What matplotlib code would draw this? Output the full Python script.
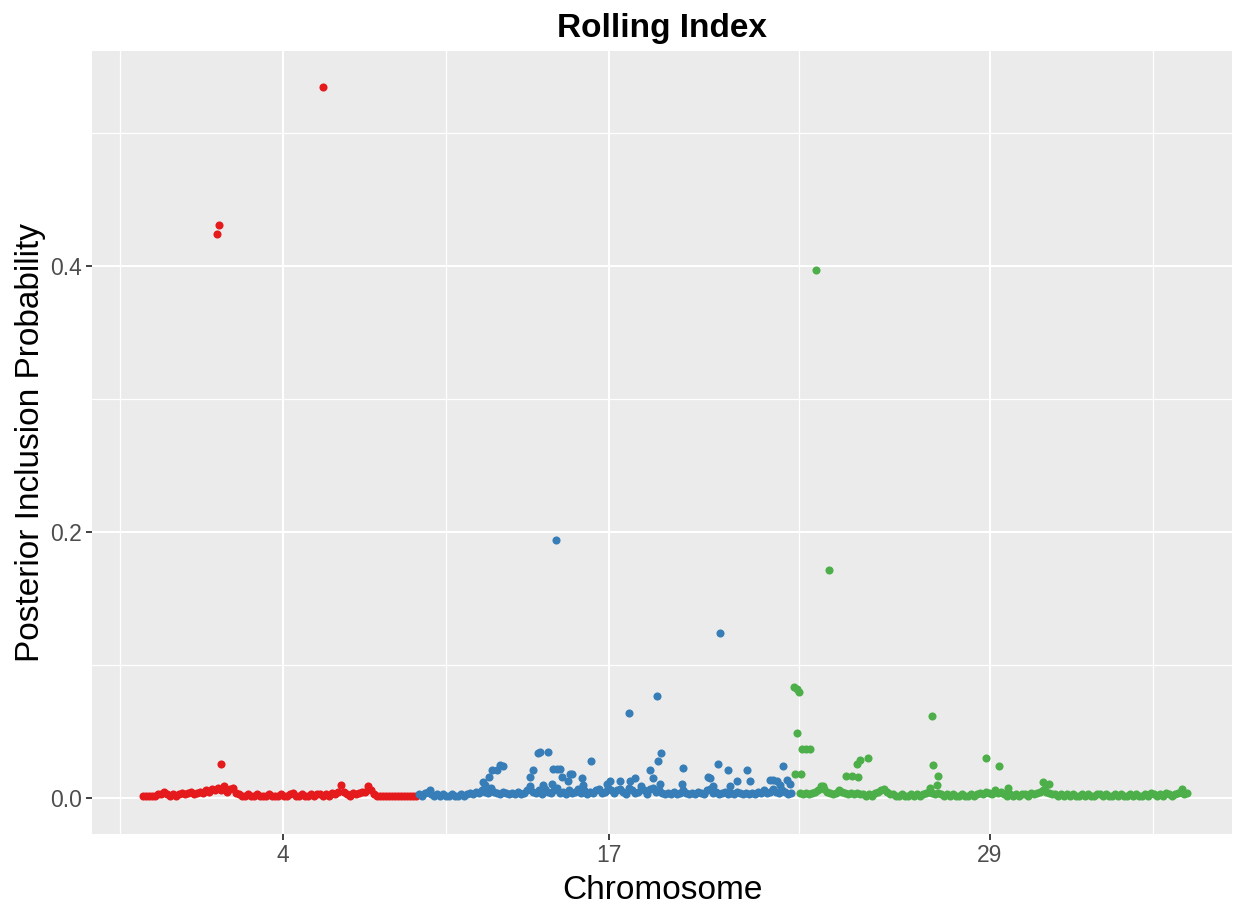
import matplotlib
matplotlib.use("Agg")
import matplotlib.pyplot as plt
import numpy as np

plt.rcParams['font.family'] = ['Liberation Sans', 'DejaVu Sans']

# ---------------- data ----------------
title = "Rolling Index"
x_label = "Chromosome"
y_label = "Posterior Inclusion Probability"

chrom_tick_pos = [46.7, 155.3, 282.3]
chrom_tick_labels = ["4", "17", "29"]
y_ticks = [0.0, 0.2, 0.4]
y_tick_labels = ["0.0", "0.2", "0.4"]

# regularly spaced windows (baseline), start index per group
red_start = 0
red_pip = [
    0.002, 0.002, 0.002, 0.002, 0.002, 0.003, 0.003, 0.005, 0.003, 0.002,
    0.003, 0.002, 0.003, 0.004, 0.003, 0.004, 0.005, 0.003, 0.004, 0.005,
    0.004, 0.006, 0.005, 0.007, 0.006, 0.008, 0.006, 0.009, 0.005, 0.007,
    0.008, 0.004, 0.003, 0.002, 0.002, 0.003, 0.002, 0.002, 0.003, 0.002,
    0.002, 0.002, 0.003, 0.002, 0.002, 0.002, 0.003, 0.002, 0.002, 0.003,
    0.004, 0.002, 0.002, 0.003, 0.002, 0.002, 0.003, 0.002, 0.003, 0.003,
    0.002, 0.003, 0.002, 0.004, 0.003, 0.005, 0.010, 0.005, 0.003, 0.002,
    0.004, 0.003, 0.004, 0.005, 0.005, 0.009, 0.006, 0.003, 0.002, 0.002,
    0.002, 0.002, 0.002, 0.002, 0.002, 0.002, 0.002, 0.002, 0.002, 0.002,
    0.002, 0.002,
]
red_peak_pos = [24.7, 25.3, 26.0, 60.0]
red_peak_pip = [0.424, 0.431, 0.0255, 0.535]

blue_start = 92
blue_pip = [
    0.003, 0.002, 0.004, 0.005, 0.003, 0.002, 0.003, 0.002, 0.003, 0.002,
    0.002, 0.003, 0.002, 0.002, 0.003, 0.002, 0.003, 0.004, 0.003, 0.005,
    0.004, 0.006, 0.005, 0.004, 0.008, 0.005, 0.004, 0.003, 0.005, 0.004,
    0.003, 0.004, 0.003, 0.005, 0.003, 0.004, 0.006, 0.007, 0.005, 0.004,
    0.006, 0.003, 0.007, 0.005, 0.004, 0.006, 0.008, 0.004, 0.005, 0.003,
    0.006, 0.004, 0.005, 0.007, 0.004, 0.006, 0.003, 0.005, 0.004, 0.006,
    0.007, 0.004, 0.005, 0.008, 0.006, 0.004, 0.006, 0.007, 0.005, 0.003,
    0.008, 0.006, 0.004, 0.005, 0.009, 0.006, 0.003, 0.007, 0.008, 0.005,
    0.006, 0.004, 0.003, 0.004, 0.003, 0.005, 0.003, 0.004, 0.006, 0.004,
    0.003, 0.004, 0.003, 0.005, 0.004, 0.003, 0.006, 0.007, 0.004, 0.005,
    0.003, 0.004, 0.005, 0.003, 0.004, 0.003, 0.005, 0.004, 0.003, 0.004,
    0.003, 0.004, 0.003, 0.005, 0.004, 0.006, 0.004, 0.005, 0.007, 0.005,
    0.004, 0.006, 0.005, 0.003, 0.004,
]
blue_peak_pos = [
    95.7, 113.3, 114.0, 115.3, 116.3, 118.0, 119.0, 120.0, 129.0, 129.0,
    130.0, 131.7, 132.3, 133.3, 135.0, 136.3, 136.7, 137.7, 138.0, 139.0,
    139.7, 141.7, 142.3, 143.0, 146.3, 146.7, 149.3, 154.7, 155.7, 159.0,
    162.0, 162.3, 164.0, 169.0, 170.0, 171.3, 171.7, 172.7, 172.3, 179.7,
    180.0, 188.3, 189.0, 190.0, 191.7, 192.3, 195.0, 195.7, 198.0, 201.3,
    202.3, 209.0, 210.0, 211.3, 212.3, 213.3, 214.7, 215.7,
]
blue_peak_pip = [
    0.006, 0.012, 0.010, 0.016, 0.021, 0.021, 0.025, 0.024, 0.009, 0.016,
    0.021, 0.034, 0.035, 0.010, 0.035, 0.011, 0.022, 0.194, 0.022, 0.022,
    0.016, 0.013, 0.018, 0.018, 0.015, 0.010, 0.028, 0.011, 0.013, 0.013,
    0.0645, 0.013, 0.015, 0.021, 0.015, 0.077, 0.028, 0.034, 0.011, 0.011,
    0.023, 0.016, 0.015, 0.009, 0.026, 0.1246, 0.021, 0.009, 0.013, 0.021,
    0.013, 0.014, 0.014, 0.013, 0.010, 0.024, 0.014, 0.011,
]

green_start = 219
green_pip = [
    0.004, 0.003, 0.004, 0.003, 0.004, 0.005, 0.006, 0.009, 0.007, 0.005,
    0.004, 0.003, 0.004, 0.006, 0.005, 0.004, 0.003, 0.004, 0.003, 0.004,
    0.003, 0.003, 0.002, 0.003, 0.002, 0.004, 0.005, 0.006, 0.007, 0.005,
    0.003, 0.003, 0.002, 0.002, 0.003, 0.002, 0.002, 0.003, 0.002, 0.003,
    0.002, 0.003, 0.004, 0.005, 0.004, 0.003, 0.004, 0.003, 0.002, 0.003,
    0.002, 0.003, 0.002, 0.002, 0.003, 0.002, 0.002, 0.003, 0.002, 0.003,
    0.004, 0.003, 0.005, 0.004, 0.003, 0.006, 0.004, 0.005, 0.003, 0.002,
    0.003, 0.002, 0.003, 0.002, 0.003, 0.003, 0.002, 0.004, 0.003, 0.004,
    0.005, 0.006, 0.005, 0.004, 0.003, 0.003, 0.002, 0.003, 0.002, 0.003,
    0.002, 0.003, 0.002, 0.002, 0.003, 0.002, 0.003, 0.002, 0.002, 0.003,
    0.003, 0.002, 0.003, 0.002, 0.002, 0.003, 0.002, 0.003, 0.002, 0.002,
    0.003, 0.002, 0.003, 0.002, 0.002, 0.003, 0.002, 0.004, 0.003, 0.002,
    0.003, 0.002, 0.004, 0.003, 0.002, 0.003, 0.004, 0.005, 0.003, 0.004,
]
green_peak_pos = [
    217.0, 218.0, 218.7, 218.0, 219.7, 221.0, 222.3, 217.3, 219.3, 224.3,
    228.7, 226.7, 234.3, 236.3, 238.3, 238.0, 239.0, 241.7, 263.0, 263.3,
    265.0, 262.3, 264.7, 281.0, 285.3, 288.3, 300.0, 301.0, 302.0, 346.3,
]
green_peak_pip = [
    0.084, 0.082, 0.080, 0.049, 0.0375, 0.0375, 0.0375, 0.018, 0.018, 0.397,
    0.172, 0.009, 0.017, 0.017, 0.016, 0.026, 0.0285, 0.030, 0.0617, 0.025,
    0.0165, 0.008, 0.010, 0.030, 0.024, 0.008, 0.012, 0.010, 0.011, 0.007,
]

groups = [
    ("#E41A1C", red_start, red_pip, red_peak_pos, red_peak_pip),
    ("#377EB8", blue_start, blue_pip, blue_peak_pos, blue_peak_pip),
    ("#4DAF4A", green_start, green_pip, green_peak_pos, green_peak_pip),
]

# ---------------- plot ----------------
W, H = 1233, 907
fig = plt.figure(figsize=(W / 100, H / 100), dpi=100)
ax = fig.add_axes([92 / W, 1 - 834 / H, (1232 - 92) / W, (834 - 51) / H])
ax.set_facecolor("#EBEBEB")
for s in ax.spines.values():
    s.set_visible(False)

for color, start, base, ppos, ppip in groups:
    xb = np.arange(start, start + len(base))
    xs = np.concatenate([xb, np.asarray(ppos, float)])
    ys = np.concatenate([np.asarray(base, float), np.asarray(ppip, float)])
    order = np.argsort(xs, kind="stable")
    ax.scatter(xs[order], ys[order], s=34, color=color, linewidths=0, zorder=3)

ax.set_xlim(-17.0, 363.0)
ymax = max(red_peak_pip)
ax.set_ylim(-0.05 * ymax, ymax * 1.05)

# ticks & grid
ax.set_xticks(chrom_tick_pos)
ax.set_xticklabels(chrom_tick_labels)
d = chrom_tick_pos[1] - chrom_tick_pos[0]
ext = [chrom_tick_pos[0] - d] + chrom_tick_pos + [chrom_tick_pos[-1] + d]
minor_x = [(a + b) / 2 for a, b in zip(ext[:-1], ext[1:])]
ax.set_xticks(minor_x, minor=True)
ax.set_yticks(y_ticks)
ax.set_yticklabels(y_tick_labels)
ax.set_yticks([0.1, 0.3, 0.5], minor=True)

ax.grid(which="major", color="white", linewidth=1.5, zorder=0)
ax.grid(which="minor", color="white", linewidth=0.9, zorder=0)
ax.set_axisbelow(True)
ax.tick_params(which="major", direction="out", length=4.3, width=1.3,
               color="#333333", labelsize=16.5, labelcolor="#4D4D4D", pad=3)
ax.tick_params(which="minor", length=0)

ax.set_title(title, fontsize=24, fontweight="bold", pad=10)
ax.set_xlabel(x_label, fontsize=24, labelpad=6)
ax.set_ylabel(y_label, fontsize=24, labelpad=3)

fig.savefig("out.png", dpi=100, facecolor="white")
